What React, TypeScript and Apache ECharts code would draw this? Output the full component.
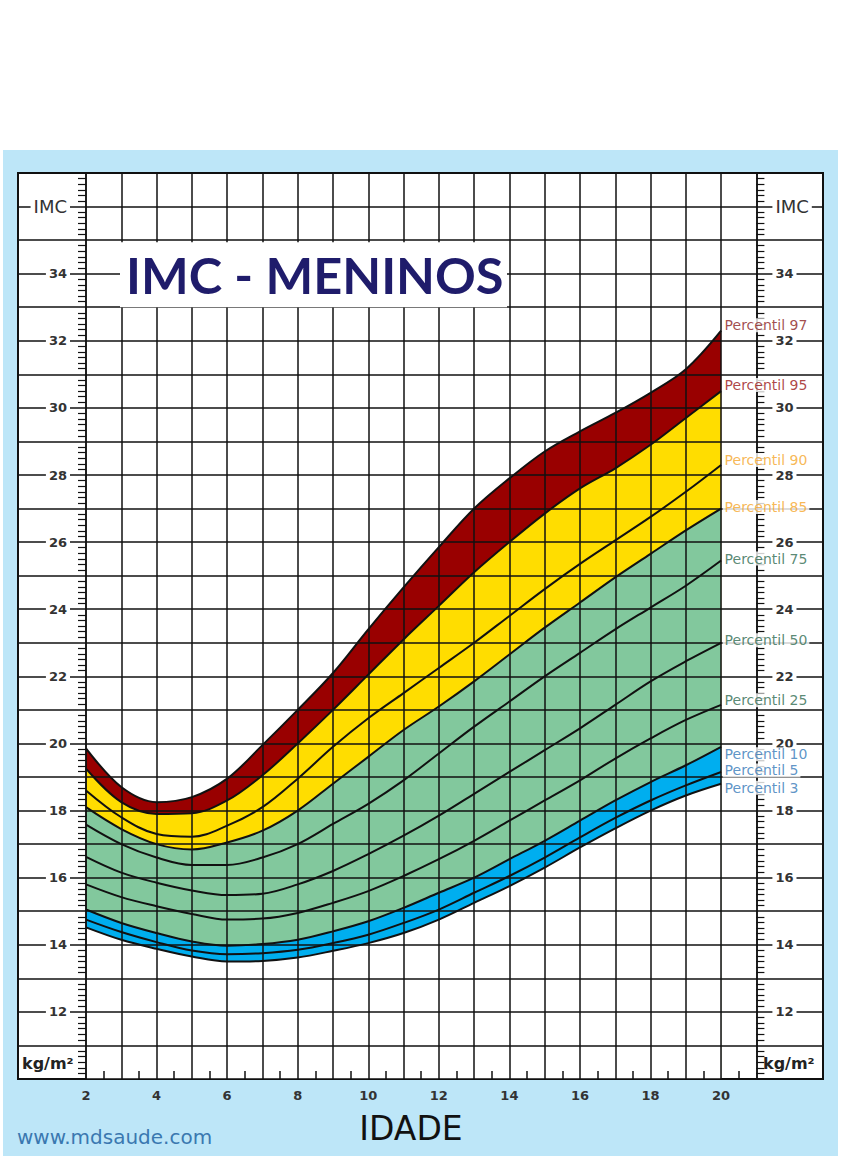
import React, { useEffect, useRef } from 'react';
import * as echarts from 'echarts';

// Age in years (x axis)
const ages = [2, 3, 4, 5, 6, 7, 8, 9, 10, 11, 12, 13, 14, 15, 16, 17, 18, 19, 20];

// BMI percentiles (kg/m²)
const p97 = [19.85, 18.7, 18.25, 18.4, 18.95, 19.95, 21.0, 22.1, 23.4, 24.65, 25.85, 27.0, 27.9, 28.7, 29.3, 29.85, 30.45, 31.15, 32.3];
const p95 = [19.25, 18.25, 17.9, 17.92, 18.3, 19.05, 20.0, 21.0, 22.05, 23.1, 24.1, 25.1, 26.0, 26.85, 27.6, 28.2, 28.9, 29.7, 30.5];
const p90 = [18.6, 17.8, 17.3, 17.22, 17.55, 18.1, 18.95, 19.9, 20.75, 21.5, 22.25, 23.0, 23.8, 24.6, 25.35, 26.05, 26.75, 27.5, 28.3];
const p85 = [18.1, 17.45, 17.0, 16.84, 17.05, 17.4, 18.0, 18.8, 19.6, 20.4, 21.1, 21.85, 22.65, 23.45, 24.2, 24.95, 25.65, 26.35, 27.0];
const p75 = [17.58, 17.0, 16.6, 16.38, 16.38, 16.6, 17.0, 17.6, 18.2, 18.9, 19.7, 20.5, 21.25, 22.0, 22.7, 23.4, 24.05, 24.7, 25.45];
const p50 = [16.62, 16.15, 15.85, 15.62, 15.48, 15.52, 15.8, 16.2, 16.7, 17.25, 17.85, 18.5, 19.15, 19.8, 20.45, 21.15, 21.85, 22.45, 23.0];
const p25 = [15.8, 15.42, 15.15, 14.92, 14.75, 14.78, 14.95, 15.25, 15.6, 16.05, 16.55, 17.1, 17.7, 18.3, 18.9, 19.55, 20.15, 20.7, 21.15];
const p10 = [15.05, 14.65, 14.35, 14.1, 13.97, 14.02, 14.15, 14.4, 14.7, 15.1, 15.55, 16.0, 16.55, 17.1, 17.7, 18.3, 18.85, 19.35, 19.9];
const p5 = [14.75, 14.38, 14.08, 13.83, 13.72, 13.75, 13.85, 14.05, 14.3, 14.65, 15.05, 15.55, 16.05, 16.6, 17.2, 17.78, 18.3, 18.75, 19.15];
const p3 = [14.52, 14.15, 13.88, 13.65, 13.5, 13.52, 13.62, 13.82, 14.05, 14.35, 14.75, 15.25, 15.75, 16.3, 16.9, 17.47, 18.0, 18.45, 18.8];

const curveNames = ['Percentil 97', 'Percentil 95', 'Percentil 90', 'Percentil 85', 'Percentil 75', 'Percentil 50', 'Percentil 25', 'Percentil 10', 'Percentil 5', 'Percentil 3'];
const curveValues = [p97, p95, p90, p85, p75, p50, p25, p10, p5, p3];

// tick labels
const xTickLabels = [2, 4, 6, 8, 10, 12, 14, 16, 18, 20];
const yTickLabels = [12, 14, 16, 18, 20, 22, 24, 26, 28, 30, 32, 34];

// styling (kept apart from the data)
const labelColors = ['#8B1E1E', '#9A1515', '#F5A62A', '#F5A62A', '#2F6B50', '#2F6B50', '#2F6B50', '#3579B8', '#3579B8', '#3579B8'];
const labelOffsets = [-5.5, -6, -5, -1.5, -2, -2.5, -4.5, 7.5, -1.5, 4];
const SMOOTH = 0.35;

export default function App() {
  const ref = useRef<HTMLDivElement>(null);

  useEffect(() => {
    const chart = echarts.init(ref.current!, null, { renderer: 'svg' });
    const pair = (vals: number[]) => ages.map((a, i) => [a, vals[i]]);

    const fills = [
      { v: p97, c: '#990000' },
      { v: p95, c: '#FFDD00' },
      { v: p85, c: '#82C89D' },
      { v: p10, c: '#00AEEF' },
      { v: p3, c: '#FFFFFF' },
    ];

    const areaSeries = fills.map((f) => ({
      type: 'line',
      xAxisIndex: 1,
      yAxisIndex: 1,
      data: pair(f.v),
      smooth: SMOOTH,
      symbol: 'none',
      silent: true,
      lineStyle: { width: 0, opacity: 0 },
      areaStyle: { color: f.c, opacity: 1, origin: 'start' },
      z: 1,
    }));

    const lineSeries = curveValues.map((v, i) => ({
      type: 'line',
      name: curveNames[i],
      xAxisIndex: 1,
      yAxisIndex: 1,
      data: pair(v),
      smooth: SMOOTH,
      symbol: 'none',
      silent: true,
      lineStyle: { color: '#111', width: 2 },
      z: 5,
    }));

    const lastAge = ages[ages.length - 1];
    const labelSeries = {
      type: 'scatter',
      xAxisIndex: 1,
      yAxisIndex: 1,
      symbolSize: 1,
      silent: true,
      itemStyle: { color: 'rgba(0,0,0,0)' },
      z: 7,
      label: {
        show: true,
        position: 'right',
        distance: 1,
        formatter: '{b}',
        fontFamily: 'DejaVu Sans',
        fontSize: 14,
        lineHeight: 14,
        backgroundColor: '#fff',
        padding: [0, 2],
      },
      data: curveValues.map((v, i) => ({
        name: curveNames[i],
        value: [lastAge, v[v.length - 1]],
        label: { color: labelColors[i], offset: [0, labelOffsets[i]] },
      })),
    };

    const yFormatter = (val: number) => {
      if (val === 36) return '{imc|IMC}';
      if (yTickLabels.includes(val)) return `{num|${val}}`;
      return '';
    };
    const yRich = {
      imc: { fontFamily: 'DejaVu Sans', fontSize: 18, color: '#333', backgroundColor: '#fff', padding: [0, 3] },
      num: { fontFamily: 'DejaVu Sans', fontWeight: 'bold', fontSize: 13, color: '#333', backgroundColor: '#fff', padding: [1, 3] },
    };
    const sideAxis = (position: string) => ({
      gridIndex: 1,
      type: 'value',
      position,
      min: 10,
      max: 37,
      interval: 1,
      z: 4,
      axisLine: { show: true, onZero: false, lineStyle: { color: '#111', width: 1.5 } },
      axisTick: { show: false },
      minorTick: { show: true, splitNumber: 6, length: 8, lineStyle: { color: '#111', width: 1.2 } },
      splitLine: { show: false },
      axisLabel: { formatter: yFormatter, margin: 16, rich: yRich },
    });

    chart.setOption({
      animation: false,
      backgroundColor: '#fff',
      grid: [
        { left: 18, top: 173, width: 805, height: 906, show: true, backgroundColor: '#fff', borderColor: '#111', borderWidth: 2 },
        { left: 86, top: 173, width: 670.4, height: 906 },
      ],
      xAxis: [
        { gridIndex: 0, type: 'value', min: 0, max: 1, show: false },
        {
          gridIndex: 1,
          type: 'value',
          min: 2,
          max: 21,
          interval: 1,
          z: 3,
          axisLine: { show: false, onZero: false },
          axisTick: { show: false, inside: true },
          minorTick: { show: true, splitNumber: 2, length: 8, lineStyle: { color: '#111', width: 1.5 } },
          splitLine: { show: true, lineStyle: { color: '#111', width: 1.5 } },
          axisLabel: {
            formatter: (v: number) => (xTickLabels.includes(v) ? String(v) : ''),
            margin: 10,
            fontFamily: 'DejaVu Sans',
            fontWeight: 'bold',
            fontSize: 13,
            color: '#333',
          },
        },
      ],
      yAxis: [
        {
          gridIndex: 0,
          type: 'value',
          min: 10,
          max: 37,
          interval: 1,
          z: 3,
          axisLine: { show: false },
          axisTick: { show: false },
          axisLabel: { show: false },
          splitLine: { show: true, lineStyle: { color: '#111', width: 1.5 } },
        },
        sideAxis('left'),
        sideAxis('right'),
      ],
      graphic: [
        { type: 'rect', z: -10, silent: true, shape: { x: 3, y: 150, width: 835, height: 1006 }, style: { fill: '#BDE6F8' } },
        { type: 'rect', z: 20, silent: true, shape: { x: 120, y: 242.3, width: 387, height: 65 }, style: { fill: '#fff' } },
        { type: 'text', z: 21, silent: true, x: 126, y: 274, style: { text: 'IMC - MENINOS', font: 'bold 50.5px Lato', fill: '#1F1C6B', verticalAlign: 'middle' } },
        { type: 'text', z: 21, silent: true, x: 22, y: 1063, style: { text: 'kg/m²', font: 'bold 16px "DejaVu Sans"', fill: '#222', verticalAlign: 'middle' } },
        { type: 'text', z: 21, silent: true, x: 763, y: 1063, style: { text: 'kg/m²', font: 'bold 16px "DejaVu Sans"', fill: '#222', verticalAlign: 'middle' } },
        { type: 'text', z: 21, silent: true, x: 411, y: 1128, style: { text: 'IDADE', font: '33px "DejaVu Sans"', fill: '#111', align: 'center', verticalAlign: 'middle' } },
        { type: 'text', z: 21, silent: true, x: 17, y: 1137, style: { text: 'www.mdsaude.com', font: '20px "DejaVu Sans"', fill: '#3A78B0', verticalAlign: 'middle' } },
      ],
      series: [...areaSeries, ...lineSeries, labelSeries],
    });

    return () => chart.dispose();
  }, []);

  return <div ref={ref} style={{ position: 'absolute', left: 0, top: 0, width: 857, height: 1156 }} />;
}
